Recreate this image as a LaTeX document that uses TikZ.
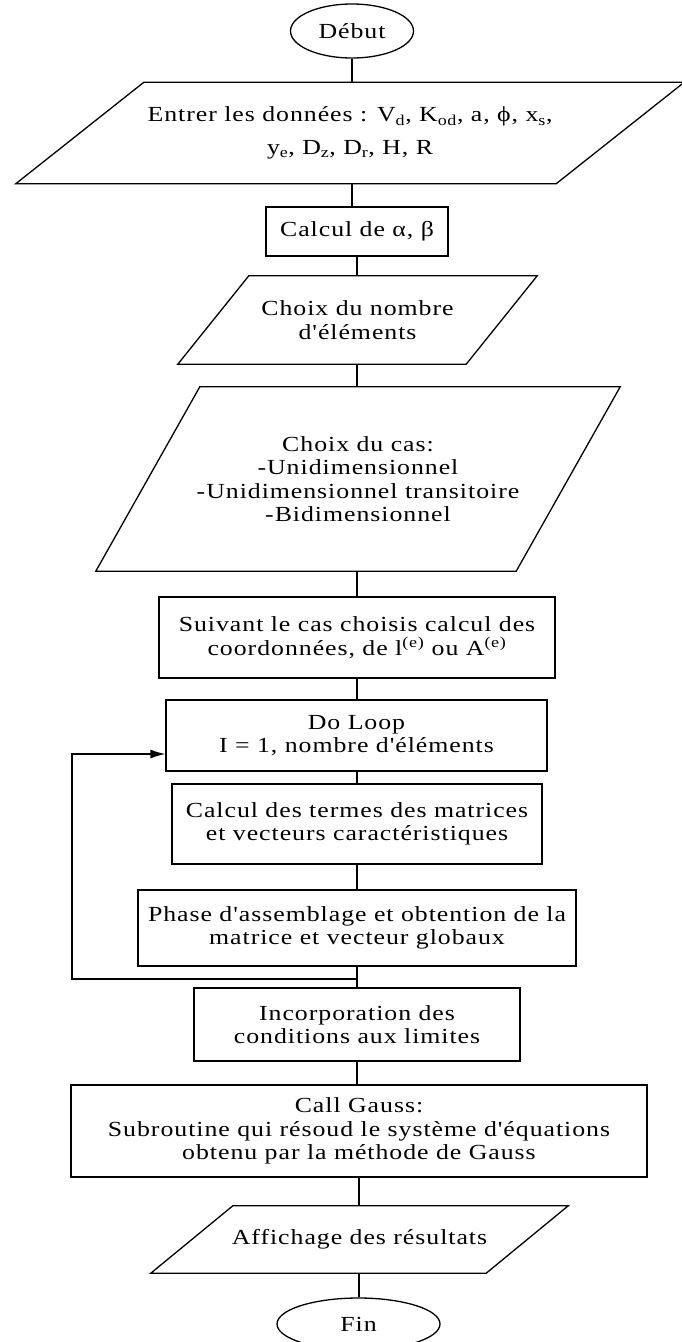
\documentclass[tikz,border=0pt]{standalone}
\usepackage{fontspec}
\setmainfont{Liberation Serif}[Ligatures=TeXOff, FakeStretch=1.2, LetterSpace=4.5]
\usetikzlibrary{arrows.meta,shapes.geometric}

\begin{document}
\begin{tikzpicture}[x=1pt, y=-1pt,
  every node/.style={font=\fontsize{21.5}{23.5}\selectfont, align=center, inner sep=0pt},
  box/.style={draw, rectangle, line width=1.3pt},
  io/.style={rectangle},
  term/.style={draw, ellipse, line width=1.3pt},
  flow/.style={line width=1.3pt}]

\useasboundingbox (0,0) rectangle (681,1342);

% start
\node[term, minimum width=123pt, minimum height=54pt] (debut) at (352,31) {Début};

% input of the data
\node[io, minimum width=540pt, minimum height=101pt] (donnees) at (350,133)
  {Entrer les données : V\textsubscript{d}, K\textsubscript{od}, a, ϕ, x\textsubscript{s},\\[9pt]
   y\textsubscript{e}, D\textsubscript{z}, D\textsubscript{r}, H, R};
\draw[flow] ([xshift=64pt]donnees.north west) -- ([xshift=64pt]donnees.north east)
  -- ([xshift=-64pt]donnees.south east) -- ([xshift=-64pt]donnees.south west) -- cycle;

\node[box, minimum width=182pt, minimum height=49pt] (alphabeta) at (357,231.5) {Calcul de α, β};

% number of elements
\node[io, minimum width=288pt, minimum height=88pt] (nombre) at (357.5,320)
  {Choix du nombre\\d'éléments};
\draw[flow] ([xshift=35.5pt]nombre.north west) -- ([xshift=35.5pt]nombre.north east)
  -- ([xshift=-35.5pt]nombre.south east) -- ([xshift=-35.5pt]nombre.south west) -- cycle;

% choice of the case
\node[io, minimum width=420pt, minimum height=184pt] (cas) at (358,479)
  {Choix du cas:\\-Unidimensionnel\\-Unidimensionnel transitoire\\-Bidimensionnel};
\draw[flow] ([xshift=52pt]cas.north west) -- ([xshift=52pt]cas.north east)
  -- ([xshift=-52pt]cas.south east) -- ([xshift=-52pt]cas.south west) -- cycle;

\node[box, minimum width=396pt, minimum height=81pt] (coord) at (357,637.5)
  {Suivant le cas choisis calcul des\\coordonnées, de l\textsuperscript{(e)} ou A\textsuperscript{(e)}};

% loop over the elements
\node[box, minimum width=381pt, minimum height=71pt] (doloop) at (356.5,735.5)
  {Do Loop\\I = 1, nombre d'éléments};
\node[box, minimum width=370pt, minimum height=80pt] (termes) at (357,824)
  {Calcul des termes des matrices\\et vecteurs caractéristiques};
\node[box, minimum width=438pt, minimum height=76pt] (assemblage) at (357,928)
  {Phase d'assemblage et obtention de la\\matrice et vecteur globaux};

\node[box, minimum width=326pt, minimum height=73pt] (limites) at (357,1024.5)
  {Incorporation des\\conditions aux limites};
\node[box, minimum width=576pt, minimum height=92pt] (gauss) at (359,1131)
  {Call Gauss:\\Subroutine qui résoud le système d'équations\\obtenu par la méthode de Gauss};

% output
\node[io, minimum width=335pt, minimum height=67pt] (affichage) at (359.5,1239.5)
  {Affichage des résultats};
\draw[flow] ([xshift=41pt]affichage.north west) -- ([xshift=41pt]affichage.north east)
  -- ([xshift=-41pt]affichage.south east) -- ([xshift=-41pt]affichage.south west) -- cycle;

% end
\node[term, minimum width=163pt, minimum height=52pt] (fin) at (358.5,1324) {Fin};

% connectors
\draw[flow] (debut.south) -- (debut.south |- donnees.north);
\draw[flow] (debut.south |- donnees.south) -- (debut.south |- alphabeta.north);
\draw[flow] (alphabeta.south) -- (alphabeta.south |- nombre.north);
\draw[flow] (alphabeta.south |- nombre.south) -- (alphabeta.south |- cas.north);
\draw[flow] (alphabeta.south |- cas.south) -- (alphabeta.south |- coord.north);
\draw[flow] (coord.south) -- (coord.south |- doloop.north);
\draw[flow] (termes.north |- doloop.south) -- (termes.north);
\draw[flow] (termes.south) -- (termes.south |- assemblage.north);
\draw[flow] (assemblage.south) -- (assemblage.south |- limites.north);
\draw[flow] (limites.south) -- (limites.south |- gauss.north);
\draw[flow] (gauss.south) -- (gauss.south |- affichage.north);
\draw[flow] (gauss.south |- affichage.south) -- (gauss.south |- fin.north);

% back to the start of the loop
\coordinate (retour) at (357,979);
\coordinate (gauche) at (72,979);
\draw[flow, -{Latex[length=15pt, width=9pt]}] (retour) -- (gauche) |- ([yshift=-18.5pt]doloop.west);

\end{tikzpicture}
\end{document}
